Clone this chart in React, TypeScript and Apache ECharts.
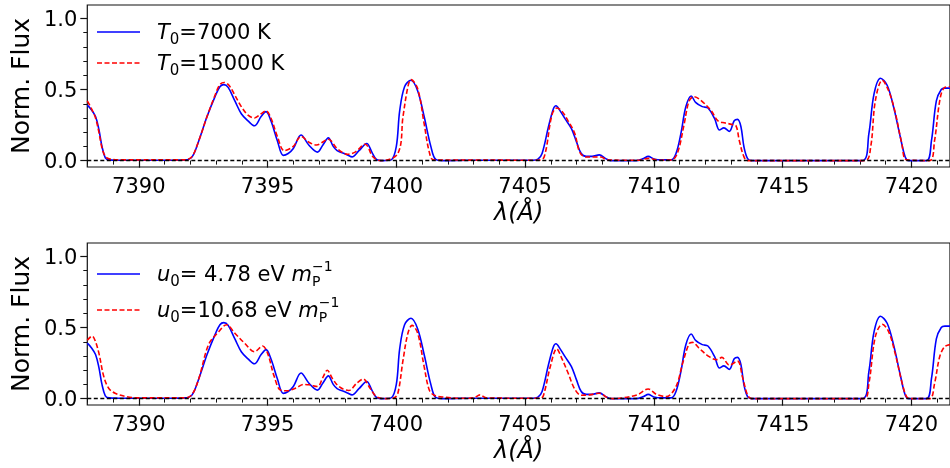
import React, { useEffect, useRef } from "react";
import * as echarts from "echarts";

// ---- data ----
const waveBlue = [
  7388.0, 7388.15, 7388.32, 7388.45, 7388.57, 7388.7, 7388.85, 7389.2, 7390.0, 7391.0, 7391.8,
  7392.07, 7392.33, 7392.65, 7392.96, 7393.15, 7393.3, 7393.47, 7393.73, 7393.98, 7394.24, 7394.49,
  7394.75, 7394.94, 7395.13, 7395.38, 7395.61, 7395.8, 7396.0, 7396.3, 7396.6, 7396.94, 7397.15,
  7397.36, 7397.55, 7397.7, 7397.9, 7398.1, 7398.28, 7398.55, 7398.85, 7399.05, 7399.23, 7399.5,
  7399.8, 7400.0, 7400.13, 7400.32, 7400.57, 7400.83, 7401.08, 7401.34, 7401.53, 7401.8, 7403.0,
  7405.3, 7405.5, 7405.66, 7405.91, 7406.1, 7406.2, 7406.36, 7406.55, 7406.8, 7407.0, 7407.18,
  7407.37, 7407.6, 7407.88, 7408.13, 7408.32, 7409.3, 7409.6, 7409.78, 7410.0, 7410.3, 7410.67,
  7410.86, 7411.05, 7411.24, 7411.45, 7411.62, 7411.88, 7412.1, 7412.36, 7412.55, 7412.72, 7412.93,
  7413.12, 7413.25, 7413.38, 7413.5, 7413.64, 7413.8, 7418.1, 7418.35, 7418.55, 7418.8, 7419.06,
  7419.31, 7419.57, 7419.76, 7419.9, 7420.59, 7420.78, 7420.97, 7421.16, 7421.3, 7421.5,
];
const fluxBlue = [
  0.39, 0.36, 0.31, 0.22, 0.1, 0.02, 0.005, 0.003, 0.002, 0.002, 0.005,
  0.026, 0.14, 0.31, 0.45, 0.52, 0.535, 0.515, 0.42, 0.33, 0.28, 0.245,
  0.31, 0.345, 0.28, 0.14, 0.037, 0.05, 0.085, 0.18, 0.11, 0.06, 0.11,
  0.16, 0.1, 0.07, 0.055, 0.04, 0.026, 0.07, 0.12, 0.06, 0.008, 0.0,
  0.005, 0.1, 0.35, 0.52, 0.565, 0.49, 0.31, 0.1, 0.008, 0.0, 0.003,
  0.002, 0.01, 0.05, 0.24, 0.365, 0.386, 0.35, 0.295, 0.225, 0.13, 0.05,
  0.03, 0.03, 0.04, 0.014, 0.0, 0.0, 0.015, 0.03, 0.012, 0.005, 0.005,
  0.05, 0.19, 0.377, 0.455, 0.41, 0.38, 0.37, 0.295, 0.215, 0.23, 0.206,
  0.28, 0.29, 0.24, 0.096, 0.014, 0.0, 0.0, 0.19, 0.47, 0.58, 0.53,
  0.377, 0.166, 0.026, 0.0, 0.0, 0.14, 0.42, 0.5, 0.51, 0.51,
];

const waveRedT = [
  7388.0, 7388.15, 7388.32, 7388.45, 7388.57, 7388.7, 7388.85, 7389.3, 7391.8, 7392.07, 7392.33,
  7392.65, 7392.96, 7393.15, 7393.32, 7393.5, 7393.73, 7393.98, 7394.24, 7394.49, 7394.75, 7394.94,
  7395.13, 7395.38, 7395.65, 7396.0, 7396.3, 7396.6, 7396.9, 7397.36, 7397.7, 7398.1, 7398.4,
  7398.79, 7399.1, 7399.4, 7400.06, 7400.26, 7400.45, 7400.57, 7400.83, 7401.08, 7401.28, 7401.45,
  7405.5, 7405.74, 7406.04, 7406.23, 7406.42, 7406.67, 7406.93, 7407.12, 7407.37, 7407.94, 7408.2,
  7409.4, 7409.8, 7410.2, 7410.7, 7410.93, 7411.18, 7411.37, 7411.56, 7411.85, 7412.23, 7412.49,
  7412.77, 7413.02, 7413.19, 7413.32, 7413.5, 7413.65, 7418.2, 7418.42, 7418.6, 7418.87, 7419.12,
  7419.37, 7419.63, 7419.82, 7420.71, 7420.9, 7421.1, 7421.26, 7421.5,
];
const fluxRedT = [
  0.42, 0.37, 0.3, 0.2, 0.09, 0.03, 0.012, 0.005, 0.005, 0.03, 0.14,
  0.31, 0.46, 0.535, 0.55, 0.53, 0.46, 0.38, 0.32, 0.3, 0.33, 0.35,
  0.3, 0.17, 0.07, 0.1, 0.17, 0.13, 0.11, 0.15, 0.085, 0.045, 0.06,
  0.115, 0.025, 0.0, 0.05, 0.31, 0.52, 0.57, 0.505, 0.26, 0.06, 0.005,
  0.003, 0.025, 0.32, 0.37, 0.35, 0.28, 0.19, 0.06, 0.025, 0.025, 0.005,
  0.002, 0.016, 0.003, 0.005, 0.06, 0.26, 0.42, 0.45, 0.42, 0.35, 0.28,
  0.265, 0.255, 0.245, 0.14, 0.026, 0.0, 0.0, 0.096, 0.42, 0.565, 0.49,
  0.34, 0.12, 0.005, 0.0, 0.14, 0.42, 0.51, 0.52,
];

const waveRedU = [
  7388.0, 7388.19, 7388.3, 7388.45, 7388.64, 7388.83, 7389.08, 7389.53, 7390.0, 7391.8, 7392.07,
  7392.33, 7392.71, 7393.1, 7393.41, 7393.73, 7394.11, 7394.49, 7394.81, 7395.0, 7395.26, 7395.5,
  7395.76, 7396.1, 7396.4, 7396.62, 7396.94, 7397.15, 7397.32, 7397.51, 7397.77, 7398.15, 7398.47,
  7398.72, 7398.98, 7399.23, 7399.6, 7399.9, 7400.06, 7400.26, 7400.45, 7400.61, 7400.83, 7401.08,
  7401.28, 7401.47, 7401.85, 7402.5, 7403.0, 7403.25, 7403.5, 7405.6, 7405.72, 7405.98, 7406.23,
  7406.42, 7406.67, 7406.93, 7407.18, 7407.5, 7407.88, 7408.2, 7408.4, 7409.34, 7409.78, 7410.1,
  7410.48, 7410.86, 7411.12, 7411.37, 7411.5, 7411.75, 7412.13, 7412.45, 7412.64, 7412.93, 7413.25,
  7413.44, 7413.64, 7413.8, 7418.15, 7418.35, 7418.6, 7418.87, 7419.12, 7419.37, 7419.63, 7419.82,
  7420.0, 7420.71, 7420.9, 7421.1, 7421.29, 7421.5,
];
const fluxRedU = [
  0.41, 0.44, 0.41, 0.32, 0.155, 0.073, 0.038, 0.014, 0.005, 0.005, 0.03,
  0.14, 0.38, 0.47, 0.52, 0.46, 0.39, 0.33, 0.37, 0.32, 0.155, 0.06,
  0.055, 0.075, 0.1, 0.097, 0.085, 0.15, 0.2, 0.144, 0.085, 0.057, 0.11,
  0.137, 0.073, 0.014, 0.0, 0.005, 0.038, 0.27, 0.46, 0.515, 0.46, 0.226,
  0.06, 0.024, 0.01, 0.002, 0.005, 0.026, 0.005, 0.002, 0.026, 0.226, 0.35,
  0.285, 0.18, 0.066, 0.024, 0.026, 0.038, 0.007, 0.0, 0.026, 0.068, 0.03,
  0.014, 0.085, 0.25, 0.387, 0.396, 0.356, 0.297, 0.274, 0.29, 0.236, 0.264,
  0.153, 0.024, 0.0, 0.0, 0.106, 0.436, 0.523, 0.47, 0.318, 0.118, 0.012,
  0.0, 0.0, 0.106, 0.295, 0.365, 0.38,
];

const xMajorTicks = [7390, 7395, 7400, 7405, 7410, 7415, 7420];
const xMinorTicks = [
  7388, 7389, 7391, 7392, 7393, 7394, 7396, 7397, 7398, 7399, 7401, 7402, 7403, 7404,
  7406, 7407, 7408, 7409, 7411, 7412, 7413, 7414, 7416, 7417, 7418, 7419, 7421,
];
const yMajorTicks = [0, 0.5, 1.0];
const yMinorTicks = [0.1, 0.2, 0.3, 0.4, 0.6, 0.7, 0.8, 0.9];

const X_MIN = 7388;
const X_MAX = 7421.5;
const Y_MIN = -0.045;
const Y_MAX = 1.095;

const FONT = "DejaVu Sans";
const INK = "#111";
const TICK_FS = 21;
const NAME_FS = 25;
const LEG_FS = 21;
const SUB_FS = 14;

const pairs = (w: number[], f: number[]) => w.map((x, i) => [x, f[i]]);

function textWidth(parts: [string, string][]) {
  const c = document.createElement("canvas").getContext("2d");
  if (!c) return 0;
  let w = 0;
  for (const [font, t] of parts) {
    c.font = font;
    w += c.measureText(t).width;
  }
  return w;
}

export default function App() {
  const ref = useRef<HTMLDivElement>(null);
  useEffect(() => {
    document.body.style.margin = "0";
    if (!ref.current) return;
    const chart = echarts.init(ref.current, undefined, { renderer: "svg" });

    const grids = [
      { left: 79, top: 5, width: 876, height: 162 },
      { left: 79, top: 243, width: 876, height: 162 },
    ].map((g) => ({ ...g, show: true, borderColor: INK, borderWidth: 1.2, backgroundColor: "transparent" }));

    const xMajor = (gi: number) => ({
      type: "value",
      gridIndex: gi,
      min: X_MIN,
      max: X_MAX,
      position: "bottom",
      splitLine: { show: false },
      axisLine: { show: false },
      axisTick: { show: true, length: 7, lineStyle: { color: INK, width: 1.2 }, customValues: xMajorTicks },
      axisLabel: {
        show: true,
        customValues: xMajorTicks,
        margin: 8,
        fontSize: TICK_FS,
        fontFamily: FONT,
        color: "#000",
        formatter: (v: number) => String(Math.round(v)),
      },
      name: "λ(Å)",
      nameLocation: "middle",
      nameGap: 33,
      nameTextStyle: { fontSize: 24, fontFamily: FONT, fontStyle: "italic", color: "#000" },
    });
    const xMinor = (gi: number) => ({
      type: "value",
      gridIndex: gi,
      min: X_MIN,
      max: X_MAX,
      position: "bottom",
      splitLine: { show: false },
      axisLine: { show: false },
      axisTick: { show: true, length: 4, lineStyle: { color: INK, width: 1 }, customValues: xMinorTicks },
      axisLabel: { show: false },
    });
    const yMajor = (gi: number) => ({
      type: "value",
      gridIndex: gi,
      min: Y_MIN,
      max: Y_MAX,
      position: "left",
      splitLine: { show: false },
      axisLine: { show: false },
      axisTick: { show: true, length: 7, lineStyle: { color: INK, width: 1.2 }, customValues: yMajorTicks },
      axisLabel: {
        show: true,
        customValues: yMajorTicks,
        margin: 10,
        fontSize: TICK_FS,
        fontFamily: FONT,
        color: "#000",
        formatter: (v: number) => v.toFixed(1),
      },
      name: "Norm. Flux",
      nameLocation: "middle",
      nameGap: 45,
      nameTextStyle: { fontSize: NAME_FS, fontFamily: FONT, color: "#000" },
    });
    const yMinor = (gi: number) => ({
      type: "value",
      gridIndex: gi,
      min: Y_MIN,
      max: Y_MAX,
      position: "left",
      splitLine: { show: false },
      axisLine: { show: false },
      axisTick: { show: true, length: 4, lineStyle: { color: INK, width: 1 }, customValues: yMinorTicks },
      axisLabel: { show: false },
    });

    const zeroLine = {
      silent: true,
      symbol: "none",
      label: { show: false },
      lineStyle: { color: "#000", type: [4, 2.5], width: 1.3 },
      data: [{ yAxis: 0 }],
    };

    const line = (name: string, data: number[][], xi: number, yi: number, color: string, dashed: boolean, withZero: boolean) => ({
      type: "line",
      name,
      xAxisIndex: xi,
      yAxisIndex: yi,
      data,
      showSymbol: false,
      symbol: "none",
      smooth: 0.35,
      lineStyle: { color, width: 1.6, type: dashed ? [5, 2.5] : "solid" },
      clip: true,
      markLine: withZero ? zeroLine : undefined,
    });

    const legendText = (x: number, y: number, text: string) => ({
      type: "text",
      x,
      y,
      style: {
        text,
        fill: "#000",
        verticalAlign: "middle",
        align: "left",
        fontFamily: FONT,
        fontSize: LEG_FS,
        rich: {
          i: { fontFamily: FONT, fontSize: LEG_FS, fontStyle: "italic", lineHeight: 28, verticalAlign: "middle" },
          n: { fontFamily: FONT, fontSize: LEG_FS, lineHeight: 28, verticalAlign: "middle" },
          s: { fontFamily: FONT, fontSize: SUB_FS + 1, lineHeight: 15, verticalAlign: "bottom" },
        },
      },
    });
    const legendLine = (y: number, color: string, dashed: boolean) => ({
      type: "line",
      shape: { x1: 97, y1: y, x2: 140, y2: y },
      style: { stroke: color, lineWidth: 1.6, lineDash: dashed ? [5, 2.5] : null },
    });
    const small = (x: number, y: number, text: string) => ({
      type: "text",
      x,
      y,
      style: { text, fill: "#000", fontFamily: FONT, fontSize: SUB_FS, verticalAlign: "middle", align: "left" },
    });

    const it = `italic ${LEG_FS}px "${FONT}"`;
    const rm = `${LEG_FS}px "${FONT}"`;
    const sb = `${SUB_FS + 1}px "${FONT}"`;
    const supX1 = 157 + textWidth([[it, "u"], [sb, "0"], [rm, "= 4.78 eV "], [it, "m"]]);
    const supX2 = 157 + textWidth([[it, "u"], [sb, "0"], [rm, "=10.68 eV "], [it, "m"]]);

    chart.setOption({
      animation: false,
      grid: grids,
      xAxis: [xMajor(0), xMinor(0), xMajor(1), xMinor(1)],
      yAxis: [yMajor(0), yMinor(0), yMajor(1), yMinor(1)],
      series: [
        line("T0=7000 K", pairs(waveBlue, fluxBlue), 0, 0, "#0000ff", false, false),
        line("T0=15000 K", pairs(waveRedT, fluxRedT), 0, 0, "#ff0000", true, true),
        line("u0=4.78", pairs(waveBlue, fluxBlue), 2, 2, "#0000ff", false, false),
        line("u0=10.68", pairs(waveRedU, fluxRedU), 2, 2, "#ff0000", true, true),
      ],
      graphic: [
        legendLine(32, "#0000ff", false),
        legendLine(63, "#ff0000", true),
        legendText(157, 32, "{i|T}{s|0}{n|=7000 K}"),
        legendText(157, 63, "{i|T}{s|0}{n|=15000 K}"),
        legendLine(274, "#0000ff", false),
        legendLine(310, "#ff0000", true),
        legendText(157, 274, "{i|u}{s|0}{n|= 4.78 eV }{i|m}"),
        legendText(157, 310, "{i|u}{s|0}{n|=10.68 eV }{i|m}"),
        small(supX1, 281, "P"),
        small(supX1, 266, "−1"),
        small(supX2, 317, "P"),
        small(supX2, 302, "−1"),
      ],
    });
    return () => chart.dispose();
  }, []);
  return <div ref={ref} style={{ position: "fixed", left: 0, top: 0, width: 950, height: 468 }} />;
}
